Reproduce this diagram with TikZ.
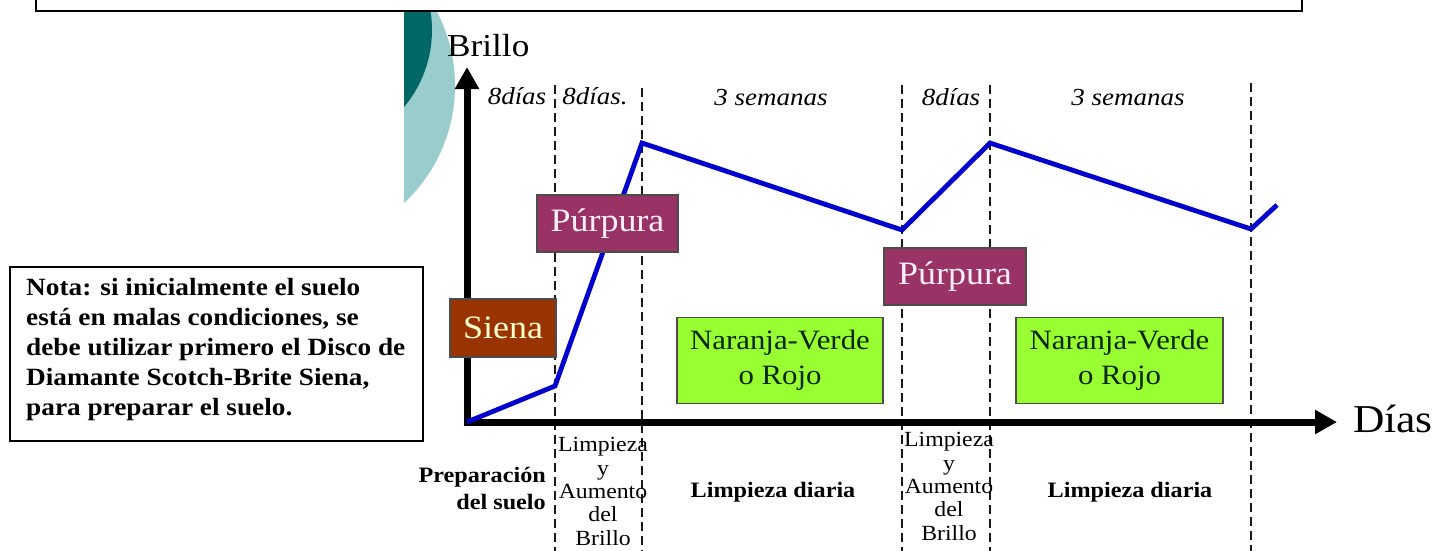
\documentclass[tikz,border=0pt]{standalone}
\usepackage{fontspec}
\setmainfont{Liberation Serif}[FakeStretch=1.1]
\usetikzlibrary{arrows.meta}
\definecolor{lineblue}{RGB}{0,0,204}
\definecolor{purp}{RGB}{153,51,102}
\definecolor{siena}{RGB}{153,51,0}
\definecolor{lime}{RGB}{153,255,51}
\definecolor{tealdark}{RGB}{0,102,102}
\definecolor{teallight}{RGB}{153,204,204}
\definecolor{cream}{RGB}{255,255,204}
\definecolor{pinkwhite}{RGB}{255,238,248}
\definecolor{greentext}{RGB}{0,40,0}
\tikzset{
  axisline/.style={line width=7pt, line join=miter, {Triangle[length=22pt,width=23pt]}-{Triangle[length=22pt,width=23pt]}},
  guide/.style={line width=2.5pt, dash pattern=on 9pt off 5pt, black!90},
  curve/.style={line width=4.8pt, lineblue, line join=miter},
  colbox/.style={draw=black!70, line width=1.2pt, inner sep=0pt, align=center},
  period/.style={font=\itshape\fontsize{24.5}{28}\selectfont, anchor=base, inner sep=0pt},
  phase/.style={font=\fontsize{21.6}{23.3}\selectfont, align=center, anchor=base, inner sep=0pt},
  phasebold/.style={font=\bfseries\fontsize{22}{27}\selectfont, inner sep=0pt},
}
\begin{document}
\begin{tikzpicture}[x=1pt,y=-1pt]
\useasboundingbox (0,0) rectangle (1436,550);
% decorative circles
\begin{scope}
  \clip (404,11) rectangle (500,260);
  \fill[teallight] (294.7,85.8) circle (160.3pt);
  \fill[tealdark] (312,30) circle (120pt);
\end{scope}
% top box (cut off)
\draw[line width=2.5pt, fill=white] (36,-6) rectangle (1302,11);
% guide coordinates
\coordinate (g1t) at (555,85);  \coordinate (g1b) at (555,552);
\coordinate (g2t) at (642,88);  \coordinate (g2b) at (642,552);
\coordinate (g3t) at (902,85);  \coordinate (g3b) at (902,552);
\coordinate (g4t) at (990,85);  \coordinate (g4b) at (990,552);
\coordinate (g5t) at (1251,83); \coordinate (g5b) at (1251,552);
\foreach \g in {1,...,5} {\draw[guide] (g\g t) -- (g\g b);}
% axes
\coordinate (origin) at (467,422);
\coordinate (ytip) at (467,67);
\coordinate (xtip) at (1337,422);
\draw[axisline] (ytip) -- (origin) -- (xtip);
\node[anchor=base west, inner sep=0pt, font=\fontsize{32}{36}\selectfont] (brillo) at (447,56) {Brillo};
\node[anchor=base west, inner sep=0pt, font=\fontsize{39.5}{44}\selectfont] (dias) at (1353,432) {Días};
% brightness curve
\coordinate (p0) at (467,422);
\coordinate (p1) at (555,386);
\coordinate (p2) at (642,143);
\coordinate (p3) at (902,230);
\coordinate (p4) at (990,143);
\coordinate (p5) at (1251,229);
\coordinate (p6) at (1277,205);
\draw[curve] (p0) -- (p1) -- (p2) -- (p3) -- (p4) -- (p5) -- (p6);
% period labels
\node[period] (t1) at (517,104) {8días};
\node[period] (t2) at (595,104) {8días.};
\node[period] (t3) at (771,105) {3 semanas};
\node[period] (t4) at (951,105) {8días};
\node[period] (t5) at (1128,105) {3 semanas};
% coloured boxes
\node[colbox, fill=siena, text=cream, minimum width=106pt, minimum height=58pt,
      font=\fontsize{32.7}{36}\selectfont] (siena) at (503,328) {Siena};
\node[colbox, fill=purp, text=pinkwhite, minimum width=141pt, minimum height=57pt,
      font=\fontsize{32.7}{36}\selectfont] (purp1) at (607.5,223.5) {Púrpura};
\node[colbox, fill=purp, text=pinkwhite, minimum width=142pt, minimum height=57pt,
      font=\fontsize{32.7}{36}\selectfont] (purp2) at (955,276.5) {Púrpura};
\node[colbox, fill=lime, text=greentext, minimum width=206pt, minimum height=86pt,
      font=\fontsize{28}{35}\selectfont] (nv1) at (780,360.5) {Naranja-Verde\\o Rojo};
\node[colbox, fill=lime, text=greentext, minimum width=207pt, minimum height=86pt,
      font=\fontsize{28}{35}\selectfont] (nv2) at (1119.5,360.5) {Naranja-Verde\\o Rojo};
% phase labels under the axis (base anchor = last line)
\node[phasebold, align=right, anchor=base east] (prep) at (546,509) {Preparación\\del suelo};
\node[phase] (lab1) at (603,545) {Limpieza\\y\\Aumento\\del\\Brillo};
\node[phasebold, anchor=base] (ld1) at (773,497) {Limpieza diaria};
\node[phase] (lab2) at (949,540) {Limpieza\\y\\Aumento\\del\\Brillo};
\node[phasebold, anchor=base] (ld2) at (1130,497) {Limpieza diaria};
% note box
\draw[line width=2.5pt] (10,267) rectangle (423,441);
\node[anchor=base west, align=left, inner sep=0pt,
      font=\bfseries\fontsize{24.8}{30}\selectfont] (nota) at (26,415)
  {Nota: si inicialmente el suelo\\está en malas condiciones, se\\debe utilizar primero el Disco de\\Diamante Scotch-Brite Siena,\\para preparar el suelo.};
\end{tikzpicture}
\end{document}
